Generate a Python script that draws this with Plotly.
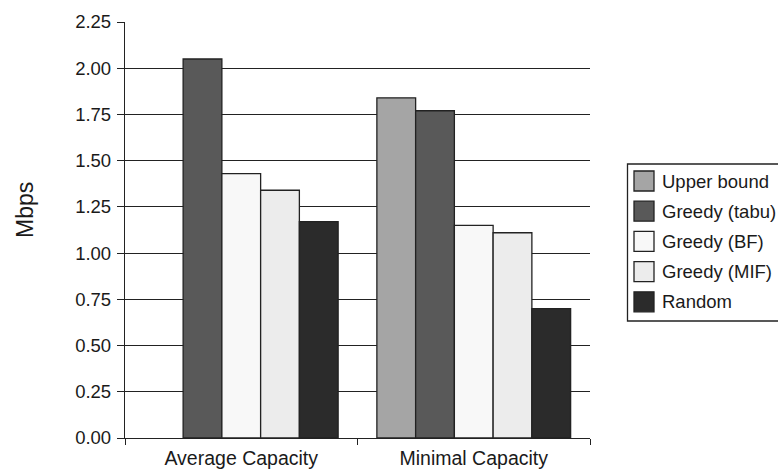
import plotly.graph_objects as go

# Data
categories = ["Average Capacity", "Minimal Capacity"]
series_names = ["Upper bound", "Greedy (tabu)", "Greedy (BF)", "Greedy (MIF)", "Random"]
upper_bound = [None, 1.84]
greedy_tabu = [2.05, 1.77]
greedy_bf = [1.43, 1.15]
greedy_mif = [1.34, 1.11]
random_sel = [1.17, 0.70]
series_values = [upper_bound, greedy_tabu, greedy_bf, greedy_mif, random_sel]
series_colors = ["#a5a5a5", "#595959", "#f8f8f8", "#ececec", "#2b2b2b"]
y_ticks = [0, 0.25, 0.5, 0.75, 1.0, 1.25, 1.5, 1.75, 2.0, 2.25]

# Canvas and plot-area geometry (pixels)
W, H = 778, 476
L, R, T, B = 125, 188, 22, 38
PW, PH = W - L - R, H - T - B

def px_x(p):
    return (p - L) / PW

def px_y(p):
    return (H - B - p) / PH

FONT = "Liberation Sans, Arial, sans-serif"
INK = "#222222"

fig = go.Figure()
for name, vals, col in zip(series_names, series_values, series_colors):
    fig.add_trace(go.Bar(
        name=name, x=categories, y=vals,
        marker=dict(color=col, line=dict(color=INK, width=1.3)),
        showlegend=False,
    ))

fig.update_layout(
    width=W, height=H,
    margin=dict(l=L, r=R, t=T, b=B, pad=0),
    paper_bgcolor="white", plot_bgcolor="white",
    barmode="group", bargap=1/6, bargroupgap=0,
    font=dict(family=FONT, size=19, color="#1a1a1a"),
)
fig.update_xaxes(
    automargin=False,
    showline=True, linecolor=INK, linewidth=1.3, mirror=False,
    ticks="outside", tickson="boundaries", ticklen=6, tickcolor=INK, tickwidth=1.3,
    showgrid=False, tickfont=dict(size=19.5), ticklabelstandoff=2,
)
fig.update_yaxes(
    automargin=False,
    range=[0, 2.25], tickvals=y_ticks, tickformat=".2f",
    showline=True, linecolor=INK, linewidth=1.3,
    ticks="outside", ticklen=7, tickcolor=INK, tickwidth=1.3,
    showgrid=True, gridcolor=INK, gridwidth=1.3,
    zeroline=False, tickfont=dict(size=18.5), ticklabelstandoff=2,
)

# Axis title
fig.add_annotation(
    text="Mbps", xref="paper", yref="paper", x=px_x(25), y=px_y(210),
    textangle=-90, showarrow=False, font=dict(size=23), xanchor="center", yanchor="middle",
)

# Legend box drawn by hand so the swatches match the bar styling
shapes = [dict(
    type="rect", xref="paper", yref="paper",
    x0=px_x(627.5), x1=px_x(800), y0=px_y(321), y1=px_y(164),
    line=dict(color=INK, width=1.3), fillcolor="white", layer="above",
)]
item_y = [181, 211.2, 241.4, 271.6, 301.8]
for name, col, cy in zip(series_names, series_colors, item_y):
    shapes.append(dict(
        type="rect", xref="paper", yref="paper",
        x0=px_x(634), x1=px_x(654), y0=px_y(cy + 10), y1=px_y(cy - 10),
        line=dict(color=INK, width=1.3), fillcolor=col, layer="above",
    ))
    fig.add_annotation(
        text=name, xref="paper", yref="paper", x=px_x(660), y=px_y(cy),
        showarrow=False, xanchor="left", yanchor="middle", font=dict(size=18.5),
    )
fig.update_layout(shapes=shapes)

fig.write_html("out.html")
